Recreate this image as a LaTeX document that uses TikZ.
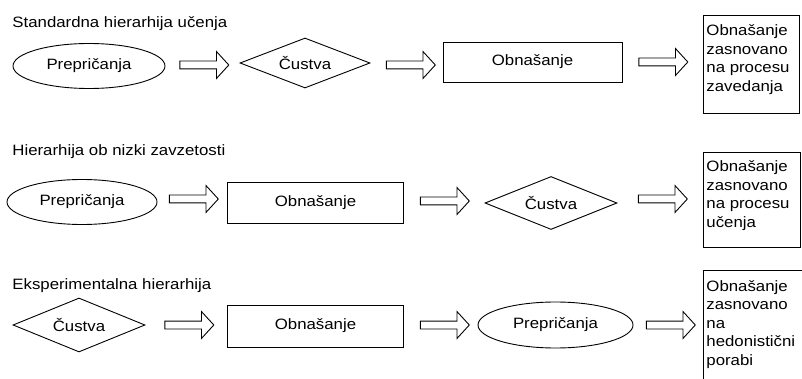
\documentclass[tikz,border=0pt]{standalone}
\usepackage{fontspec}
\setmainfont{Liberation Sans}[FakeStretch=1.12]
\usetikzlibrary{shapes.geometric,shapes.arrows}
\begin{document}
\begin{tikzpicture}[x=1pt,y=-1pt,line width=0.9pt,
  every node/.style={font=\fontsize{15}{18.5}\selectfont},
  oval/.style={draw,ellipse,inner sep=0pt,minimum width=#1,minimum height=45pt},
  rhomb/.style={draw,diamond,inner sep=0pt,aspect=2.5,minimum width=#1,minimum height=52pt},
  rectbox/.style={draw,rectangle,inner sep=0pt,minimum width=176pt,minimum height=41pt},
  outbox/.style={draw,rectangle,inner sep=0pt,anchor=north west,minimum width=96pt},
  boxtext/.style={anchor=base west,inner sep=0pt},
  title/.style={anchor=base west,inner sep=0pt},
  blockarrow/.style={draw,single arrow,inner sep=3.5pt,minimum height=49pt,
    minimum width=26pt,single arrow head extend=9.5pt,single arrow tip angle=95}]
\useasboundingbox[fill=white] (0,0) rectangle (802,379);

% Row 1
\node[title] (t1) at (12,27.5) {Standardna hierarhija učenja};
\node[oval=152pt] (e1) at (89,66) {Prepričanja};
\node[blockarrow] (a11) at (202.5,65) {};
\node[rhomb=130pt,minimum height=50pt] (d1) at (305,63) {Čustva};
\node[blockarrow] (a12) at (409,65) {};
\node[rectbox,minimum width=179pt,minimum height=40pt] (r1) at (532.5,62) {Obnašanje};
\node[blockarrow] (a13) at (661.5,62) {};
\node[outbox,minimum height=98pt] (b1) at (703,15) {};
\node[boxtext] (bt1) at ([xshift=3pt,yshift=-21pt]b1.north west)
  {\parbox[t]{95pt}{\raggedright Obnašanje\\zasnovano\\na procesu\\zavedanja}};

% Row 2
\node[title] (t2) at (12,155.5) {Hierarhija ob nizki zavzetosti};
\node[oval=150pt] (e2) at (82,202) {Prepričanja};
\node[blockarrow] (a21) at (192,199) {};
\node[rectbox] (r2) at (315.5,202.5) {Obnašanje};
\node[blockarrow] (a22) at (443,201) {};
\node[rhomb=132pt,minimum height=53pt] (d2) at (551,203) {Čustva};
\node[blockarrow] (a23) at (661,199) {};
\node[outbox,minimum height=95pt,minimum width=97pt] (b2) at (703,152) {};
\node[boxtext] (bt2) at ([xshift=3pt,yshift=-20pt]b2.north west)
  {\parbox[t]{95pt}{\raggedright Obnašanje\\zasnovano\\na procesu\\učenja}};

% Row 3
\node[title] (t3) at (12,289.5) {Eksperimentalna hierarhija};
\node[rhomb=132pt,minimum height=54pt] (d3) at (79,325) {Čustva};
\node[blockarrow] (a31) at (187.5,325) {};
\node[rectbox,minimum height=42pt] (r3) at (315.5,326) {Obnašanje};
\node[blockarrow] (a32) at (443,325) {};
\node[oval=155pt,minimum height=46pt] (e3) at (555.5,325) {Prepričanja};
\node[blockarrow] (a33) at (669,325) {};
\node[outbox,minimum height=125pt,minimum width=110pt] (b3) at (703,270) {};
\node[boxtext] (bt3) at ([xshift=3pt,yshift=-21pt]b3.north west)
  {\parbox[t]{100pt}{\raggedright Obnašanje\\zasnovano\\na\\hedonistični\\porabi}};
\end{tikzpicture}
\end{document}
